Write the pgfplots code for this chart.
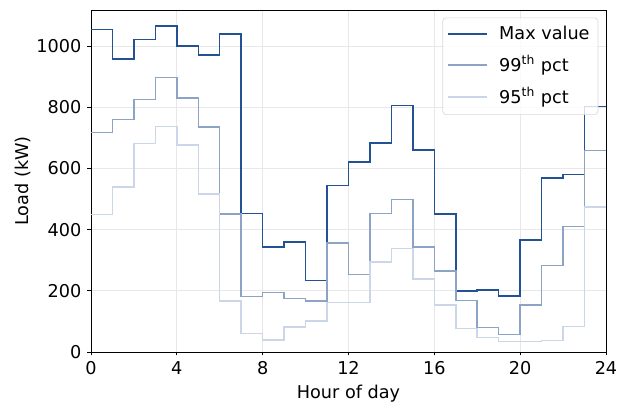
\documentclass[border=0pt]{standalone}
\usepackage{pgfplots}
\pgfplotsset{compat=1.18}
\usepackage{fontspec}
\setmainfont{DejaVu Sans}
\definecolor{cmax}{RGB}{34,82,148}
\definecolor{cnn}{RGB}{140,163,198}
\definecolor{cnf}{RGB}{203,215,233}
\begin{document}
\fontsize{10.6}{12.7}\selectfont
\begin{tikzpicture}
\useasboundingbox (-54.6pt,-34.8pt) rectangle (318pt,211.2pt);
\begin{axis}[
  at={(0,0)}, anchor=south west,
  scale only axis,
  width=309pt, height=205.2pt,
  xmin=0, xmax=24, ymin=0, ymax=1118,
  xtick={0,4,...,24},
  ytick={0,200,...,1000},
  xtick pos=bottom, ytick pos=left,
  tick align=outside,
  major tick length=2.1pt,
  tick style={black, line width=0.5pt},
  axis line style={black, line width=0.5pt},
  grid=major,
  major grid style={gray!18, line width=0.5pt},
  /pgf/number format/assume math mode=true,
  /pgf/number format/1000 sep={},
  ticklabel style={font=\fontsize{10.6}{12.7}\selectfont},
  xlabel={Hour of day}, ylabel={Load (kW)},
  label style={font=\fontsize{10.6}{12.7}\selectfont},
  xlabel style={yshift=1pt},
  ylabel style={yshift=-4pt},
  legend style={at={(rel axis cs:0.985,0.978)}, anchor=north east,
    draw=gray!30, rounded corners=2pt, fill=white, fill opacity=0.8, text opacity=1,
    font=\fontsize{10.6}{12.7}\selectfont, inner xsep=3pt, inner ysep=3pt,
    row sep=4pt},
  legend cell align=left,
  legend image code/.code={\draw[#1] (0pt,0pt) -- (23pt,0pt); \path (28pt,0pt);},
]
\addplot[const plot mark left, cmax, line width=0.9pt] coordinates {
(0,1055)(1,958)(2,1021)(3,1065)(4,1000)(5,971)(6,1040)(7,452)(8,344)(9,360)
(10,234)(11,545)(12,621)(13,684)(14,805)(15,660)(16,451)(17,199)(18,203)(19,183)
(20,366)(21,569)(22,581)(23,802)(24,802)};
\addlegendentry{Max value}
\addplot[const plot mark left, cnn, line width=0.9pt] coordinates {
(0,717)(1,760)(2,825)(3,898)(4,831)(5,735)(6,451)(7,181)(8,195)(9,175)
(10,167)(11,357)(12,254)(13,452)(14,498)(15,344)(16,265)(17,169)(18,80)(19,58)
(20,154)(21,282)(22,410)(23,659)(24,659)};
\addlegendentry{99\textsuperscript{th} pct}
\addplot[const plot mark left, cnf, line width=0.9pt] coordinates {
(0,450)(1,539)(2,682)(3,737)(4,676)(5,516)(6,167)(7,61)(8,39)(9,81)
(10,102)(11,161)(12,161)(13,295)(14,338)(15,238)(16,154)(17,76)(18,47)(19,34)
(20,34)(21,38)(22,83)(23,474)(24,474)};
\addlegendentry{95\textsuperscript{th} pct}
\end{axis}
\end{tikzpicture}
\end{document}
